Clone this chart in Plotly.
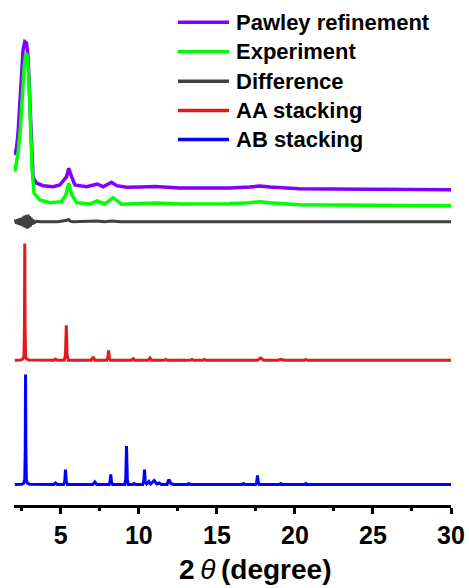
import plotly.graph_objects as go

# ---------------- data (2theta in degrees, intensity in a.u.) ----------------
pawley_x = [2.05, 2.16, 2.26, 2.37, 2.48, 2.58, 2.69, 2.80, 2.90, 3.01, 3.12, 3.22, 3.44, 3.87,
            4.51, 4.93, 5.37, 5.51, 5.69, 5.90, 6.65, 7.33, 7.71, 8.25, 8.57, 9.21, 10.06, 11.03,
            12.63, 13.91, 15.83, 17.10, 17.76, 18.40, 20.30, 22.24, 26.73, 30.0]
pawley_y = [35, 42, 57, 83, 113, 140, 148.3, 147, 133.3, 87, 37, 13, 7, 4.3,
            3.3, 5, 13.3, 21.7, 13.3, 5, 3.3, 6, 3.3, 7.7, 4.3, 2.7, 3, 3.5,
            2, 1.7, 2, 3, 4, 3, 1.2, 1.0, 0.6, 0.3]

exp_x = [2.05, 2.16, 2.26, 2.42, 2.54, 2.65, 2.76, 2.87, 2.97, 3.06, 3.16, 3.29, 3.65, 4.29,
         5.05, 5.32, 5.51, 5.71, 6.01, 6.86, 7.33, 7.82, 8.35, 8.89, 10.06, 11.03, 12.63,
         13.91, 15.83, 17.10, 17.76, 18.40, 20.30, 22.24, 26.73, 30.0]
exp_y = [34.3, 42.7, 52.7, 79.3, 112.7, 139.3, 152.7, 149.3, 119.3, 79.3, 36, 12.7, 6, 3.3,
         4.3, 11, 22.7, 11, 3.3, 2, 5, 2, 8.3, 1.7, 2, 3, 2,
         2, 2.3, 3.3, 4.3, 3.3, 1.2, 1.0, 0.6, 0.3]

diff_x = [2.05, 2.10, 2.15, 2.20, 2.25, 2.30, 2.35, 2.40, 2.45, 2.50, 2.55, 2.60, 2.65, 2.70,
          2.75, 2.80, 2.85, 2.90, 2.95, 3.00, 3.05, 3.10, 3.15, 3.20, 3.30, 3.45, 3.70, 4.00,
          4.40, 4.80, 5.20, 5.40, 5.50, 5.60, 5.80, 6.20, 6.80, 7.30, 7.80, 8.30, 8.80, 10.0,
          12.0, 15.0, 17.7, 20.0, 25.0, 30.0]
diff_y = [0, 1.5, -2, 2.5, -2.5, 3, -3, 3.5, -4, 4, -4.5, 5, -5.5, 6,
          -6, 6.5, -7, 7, -6, 5.5, -5, 4, -3, 2, -1, 0.5, 0, 0.3,
          0, 0, 0.5, 1.5, 2.2, 0.5, 0, 0.3, 0, 0.6, 0, 0.6, 0, 0,
          0, 0, 0, 0, 0, 0]

aa_x = [2.05, 2.45, 2.58, 2.64, 2.67, 2.69, 2.71, 2.74, 2.80, 2.95, 4.55, 4.66, 4.77,
        5.22, 5.30, 5.35, 5.40, 5.48, 6.95, 7.07, 7.19, 7.94, 8.01, 8.06, 8.11, 8.18,
        9.54, 9.64, 9.74, 10.60, 10.71, 10.82, 11.60, 11.71, 11.82, 13.30, 13.40, 13.50,
        14.10, 14.20, 14.30, 17.60, 17.80, 18.00, 18.90, 19.10, 19.30, 20.60, 20.70, 20.80, 30.0]
aa_y = [0, 0.3, 1.5, 5, 35, 116.7, 35, 5, 1.5, 0.3, 0, 1.2, 0,
        0, 6, 35, 6, 0, 0, 3.3, 0, 0, 2.5, 10, 2.5, 0,
        0, 1.7, 0, 0, 2.3, 0, 0, 0.8, 0, 0, 0.8, 0,
        0, 0.8, 0, 0, 2.3, 0, 0, 1, 0, 0, 0.8, 0, 0]

ab_x = [2.05, 2.50, 2.63, 2.69, 2.72, 2.74, 2.76, 2.79, 2.85, 3.00, 4.55, 4.66, 4.77,
        5.18, 5.25, 5.30, 5.35, 5.42, 7.05, 7.18, 7.31, 8.10, 8.15, 8.20, 8.25, 8.32,
        9.10, 9.16, 9.21, 9.26, 9.32, 9.60, 9.70, 9.80, 10.25, 10.31, 10.36, 10.41, 10.50,
        10.64, 10.75, 10.98, 11.15, 11.30, 11.45, 11.80, 11.92, 12.05, 12.20, 13.10, 13.20,
        13.30, 16.60, 16.70, 16.80, 17.48, 17.55, 17.60, 17.65, 17.72, 19.00, 19.10, 19.20,
        20.60, 20.70, 20.80, 30.0]
ab_y = [0, 0.3, 1.5, 5, 35, 110, 35, 5, 1.5, 0.3, 0, 1.5, 0,
        0, 3, 15, 3, 0, 0, 2.5, 0, 0, 2.5, 10, 2.5, 0,
        0, 5, 38.5, 5, 0, 0, 1, 0, 0, 3, 15, 3, 0.5,
        3, 0.5, 4, 0.5, 1.5, 0, 0, 5, 1, 0, 0, 1,
        0, 0, 1, 0, 0, 2, 9, 2, 0, 0, 1, 0,
        0, 1, 0, 0]

series_names = ["Pawley refinement", "Experiment", "Difference", "AA stacking", "AB stacking"]
x_ticks = [5, 10, 15, 20, 25, 30]

# ---------------- stacking offsets & styles ----------------
offsets = [315, 299, 283.3, 144.7, 20.5]
colors = ["#8000FF", "#00FF00", "#404040", "#E31A1C", "#0000FF"]
widths = [3.5, 3.5, 3, 3, 3]

series = [(pawley_x, pawley_y), (exp_x, exp_y), (diff_x, diff_y), (aa_x, aa_y), (ab_x, ab_y)]

fig = go.Figure()
for (xs, ys), name, off, col, w in zip(series, series_names, offsets, colors, widths):
    fig.add_trace(go.Scatter(
        x=xs, y=[v + off for v in ys], mode="lines", name=name,
        line=dict(color=col, width=w), showlegend=False, hoverinfo="skip"))

FONT = "Arial, Liberation Sans, sans-serif"

# custom legend (line + label), positioned in paper/y coords
legend_rows_y = [482.7, 453.3, 423.7, 394.5, 365.5]
for name, col, yy in zip(series_names, colors, legend_rows_y):
    fig.add_shape(type="line", xref="paper", yref="y", x0=0.3753, x1=0.492, y0=yy, y1=yy,
                  line=dict(color=col, width=3.5))
    fig.add_annotation(xref="paper", yref="y", x=0.503, y=yy, xanchor="left", yanchor="middle",
                       text="<b>%s</b>" % name, showarrow=False,
                       font=dict(family=FONT, size=22, color="black"))

# x-axis title
fig.add_annotation(xref="paper", yref="paper", x=0.5515, y=-0.1293, xanchor="center", yanchor="middle",
                   text="<b>2</b>\u2009<i>θ</i>\u2009<b>(degree)</b>", showarrow=False,
                   font=dict(family=FONT, size=28, color="black"))

fig.update_layout(
    width=469, height=588,
    margin=dict(l=14, r=18, t=10, b=83),
    paper_bgcolor="white", plot_bgcolor="white",
    font=dict(family=FONT, color="black"),
    xaxis=dict(range=[2, 30], tickvals=x_ticks, ticks="outside", ticklen=6, tickwidth=2.5,
               tickcolor="black", showline=True, linewidth=3, linecolor="black",
               showgrid=False, zeroline=False, automargin=False,
               tickfont=dict(family=FONT, size=25, color="black", weight="bold"),
               minor=dict(tickvals=[2.5, 7.5, 12.5, 17.5, 22.5, 27.5], ticks="outside",
                          ticklen=3, tickwidth=2.5, tickcolor="black", showgrid=False)),
    yaxis=dict(range=[0, 495], showticklabels=False, showline=False, showgrid=False,
               zeroline=False, ticks="", automargin=False),
)

fig.write_html("out.html", config={"displayModeBar": False},
               post_script="document.body.style.margin='0';document.body.style.padding='0';")
